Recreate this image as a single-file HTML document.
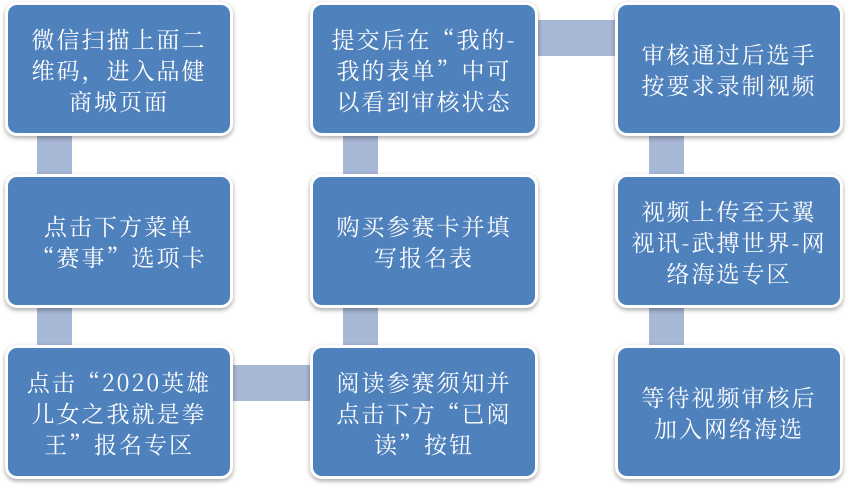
<!DOCTYPE html>
<html><head><meta charset="utf-8"><style>
body{margin:0;width:852px;height:489px;background:#fff;position:relative;overflow:hidden;font-family:"Noto Serif CJK SC","Liberation Serif",serif}
.c{position:absolute;background:#a7b7d6}
.b{position:absolute;width:222px;height:128px;background:#4f81bd;border:3px solid #fff;border-radius:12px;box-shadow:0 2px 5px rgba(0,0,0,.35);color:#fff;font-size:23px;line-height:31px;display:flex;align-items:center;justify-content:center;text-align:center;box-sizing:content-box}
.b span{display:block;white-space:nowrap;letter-spacing:2px}
</style></head><body>
<div class="c" style="left:37px;top:136px;width:35px;height:42px"></div>
<div class="c" style="left:37px;top:307px;width:35px;height:42px"></div>
<div class="c" style="left:343px;top:136px;width:35px;height:42px"></div>
<div class="c" style="left:343px;top:307px;width:35px;height:42px"></div>
<div class="c" style="left:649px;top:136px;width:35px;height:42px"></div>
<div class="c" style="left:649px;top:307px;width:35px;height:42px"></div>
<div class="c" style="left:232px;top:365px;width:84px;height:36px"></div>
<div class="c" style="left:537px;top:20px;width:84px;height:36px"></div>

<div class="b" style="left:5px;top:2px"><span>微信扫描上面二<br>维码，进入品健<br>商城页面</span></div>
<div class="b" style="left:5px;top:174px"><span>点击下方菜单<br>“赛事”选项卡</span></div>
<div class="b" style="left:5px;top:345px"><span>点击“2020英雄<br>儿女之我就是拳<br>王”报名专区</span></div>
<div class="b" style="left:310px;top:2px"><span>提交后在“我的-<br>我的表单”中可<br>以看到审核状态</span></div>
<div class="b" style="left:310px;top:174px"><span>购买参赛卡并填<br>写报名表</span></div>
<div class="b" style="left:310px;top:345px"><span>阅读参赛须知并<br>点击下方“已阅<br>读”按钮</span></div>
<div class="b" style="left:615px;top:2px"><span>审核通过后选手<br>按要求录制视频</span></div>
<div class="b" style="left:615px;top:174px"><span>视频上传至天翼<br>视讯-武搏世界-网<br>络海选专区</span></div>
<div class="b" style="left:615px;top:345px"><span>等待视频审核后<br>加入网络海选</span></div>
</body></html>
